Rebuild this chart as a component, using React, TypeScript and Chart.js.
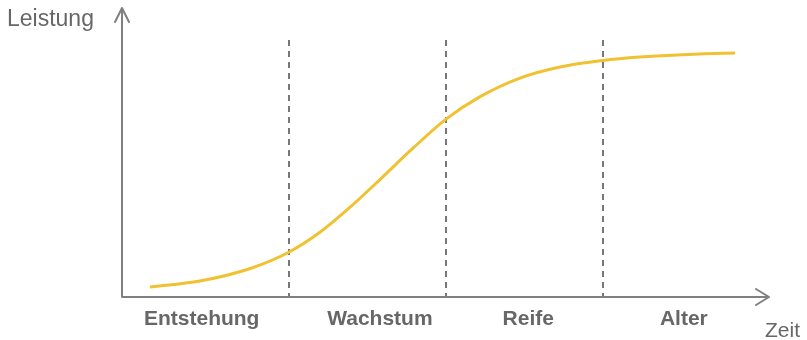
import React, { useEffect, useRef } from "react";
import { Chart, registerables } from "chart.js";

Chart.register(...registerables);

// Time (x, 0..100) and performance (y, 0..100)
const timeValues = [4.3, 12.0, 19.8, 25.8, 30.6, 35.2, 39.8, 44.9, 50.0, 55.2, 61.4, 67.6, 74.2, 79.9, 89.2, 94.6];
const performanceValues = [3.5, 5.6, 10.0, 15.8, 22.8, 31.5, 41.2, 52.2, 62.4, 70.2, 76.8, 80.7, 83.0, 84.2, 85.3, 85.6];

// Phase boundaries on the time axis
const phaseBoundaries = [25.8, 50.0, 74.2];
const phaseLabels = ["Entstehung", "Wachstum", "Reife", "Alter"];
const phaseLabelCenters = [12.3, 39.8, 62.7, 86.7];
const dashedTop = 90.2;

const yAxisTitle = "Leistung";
const xAxisTitle = "Zeit";

const AXIS_COLOR = "#808080";
const TEXT_COLOR = "#676767";
const DASH_COLOR = "#777777";
const LINE_COLOR = "#F0C232";

const decorPlugin = {
  id: "decor",
  beforeDatasetsDraw(chart: any) {
    const { ctx, chartArea, scales } = chart;
    const xs = scales.x;
    const ys = scales.y;
    ctx.save();
    ctx.strokeStyle = DASH_COLOR;
    ctx.lineWidth = 2;
    ctx.setLineDash([6, 5]);
    phaseBoundaries.forEach((b) => {
      const px = Math.round(xs.getPixelForValue(b));
      ctx.beginPath();
      ctx.moveTo(px, ys.getPixelForValue(dashedTop));
      ctx.lineTo(px, chartArea.bottom);
      ctx.stroke();
    });
    ctx.setLineDash([]);
    ctx.restore();
  },
  afterDatasetsDraw(chart: any) {
    const { ctx, chartArea, scales } = chart;
    const xs = scales.x;
    const L = chartArea.left;
    const B = chartArea.bottom;
    const R = chartArea.right;
    const T = chartArea.top;
    ctx.save();
    ctx.strokeStyle = AXIS_COLOR;
    ctx.lineWidth = 2;
    ctx.lineCap = "round";
    ctx.lineJoin = "round";
    ctx.beginPath();
    ctx.moveTo(L, T - 3);
    ctx.lineTo(L, B);
    ctx.lineTo(R - 2, B);
    ctx.stroke();
    ctx.beginPath();
    ctx.moveTo(L - 7, T + 10);
    ctx.lineTo(L, T - 4);
    ctx.lineTo(L + 7, T + 10);
    ctx.stroke();
    ctx.beginPath();
    ctx.moveTo(R - 14, B - 8);
    ctx.lineTo(R - 1, B);
    ctx.lineTo(R - 14, B + 8);
    ctx.stroke();

    ctx.fillStyle = TEXT_COLOR;
    ctx.textAlign = "center";
    ctx.textBaseline = "alphabetic";
    ctx.font = "bold 21px 'Liberation Sans', Arial, sans-serif";
    phaseLabels.forEach((lab, i) => {
      ctx.fillText(lab, xs.getPixelForValue(phaseLabelCenters[i]), B + 28);
    });
    ctx.font = "23px 'Liberation Sans', Arial, sans-serif";
    ctx.textAlign = "left";
    ctx.fillText(yAxisTitle, 7, 26);
    ctx.font = "21px 'Liberation Sans', Arial, sans-serif";
    ctx.fillText(xAxisTitle, 765, 337);
    ctx.restore();
  },
};

export default function App() {
  const ref = useRef<HTMLCanvasElement | null>(null);
  useEffect(() => {
    if (!ref.current) return;
    const chart = new Chart(ref.current, {
      type: "line",
      data: {
        datasets: [
          {
            data: timeValues.map((t, i) => ({ x: t, y: performanceValues[i] })),
            borderColor: LINE_COLOR,
            borderWidth: 3,
            pointRadius: 0,
            cubicInterpolationMode: "monotone",
            fill: false,
          },
        ],
      },
      options: {
        animation: false,
        responsive: true,
        maintainAspectRatio: false,
        layout: { padding: { left: 122, right: 37, top: 12, bottom: 43 } },
        plugins: { legend: { display: false }, tooltip: { enabled: false } },
        scales: {
          x: { type: "linear", min: 0, max: 100, display: false },
          y: { type: "linear", min: 0, max: 100, display: false },
        },
      },
      plugins: [decorPlugin],
    });
    return () => chart.destroy();
  }, []);
  return (
    <div style={{ position: "fixed", left: 0, top: 0, width: 807, height: 340, background: "#fff" }}>
      <canvas ref={ref} />
    </div>
  );
}
